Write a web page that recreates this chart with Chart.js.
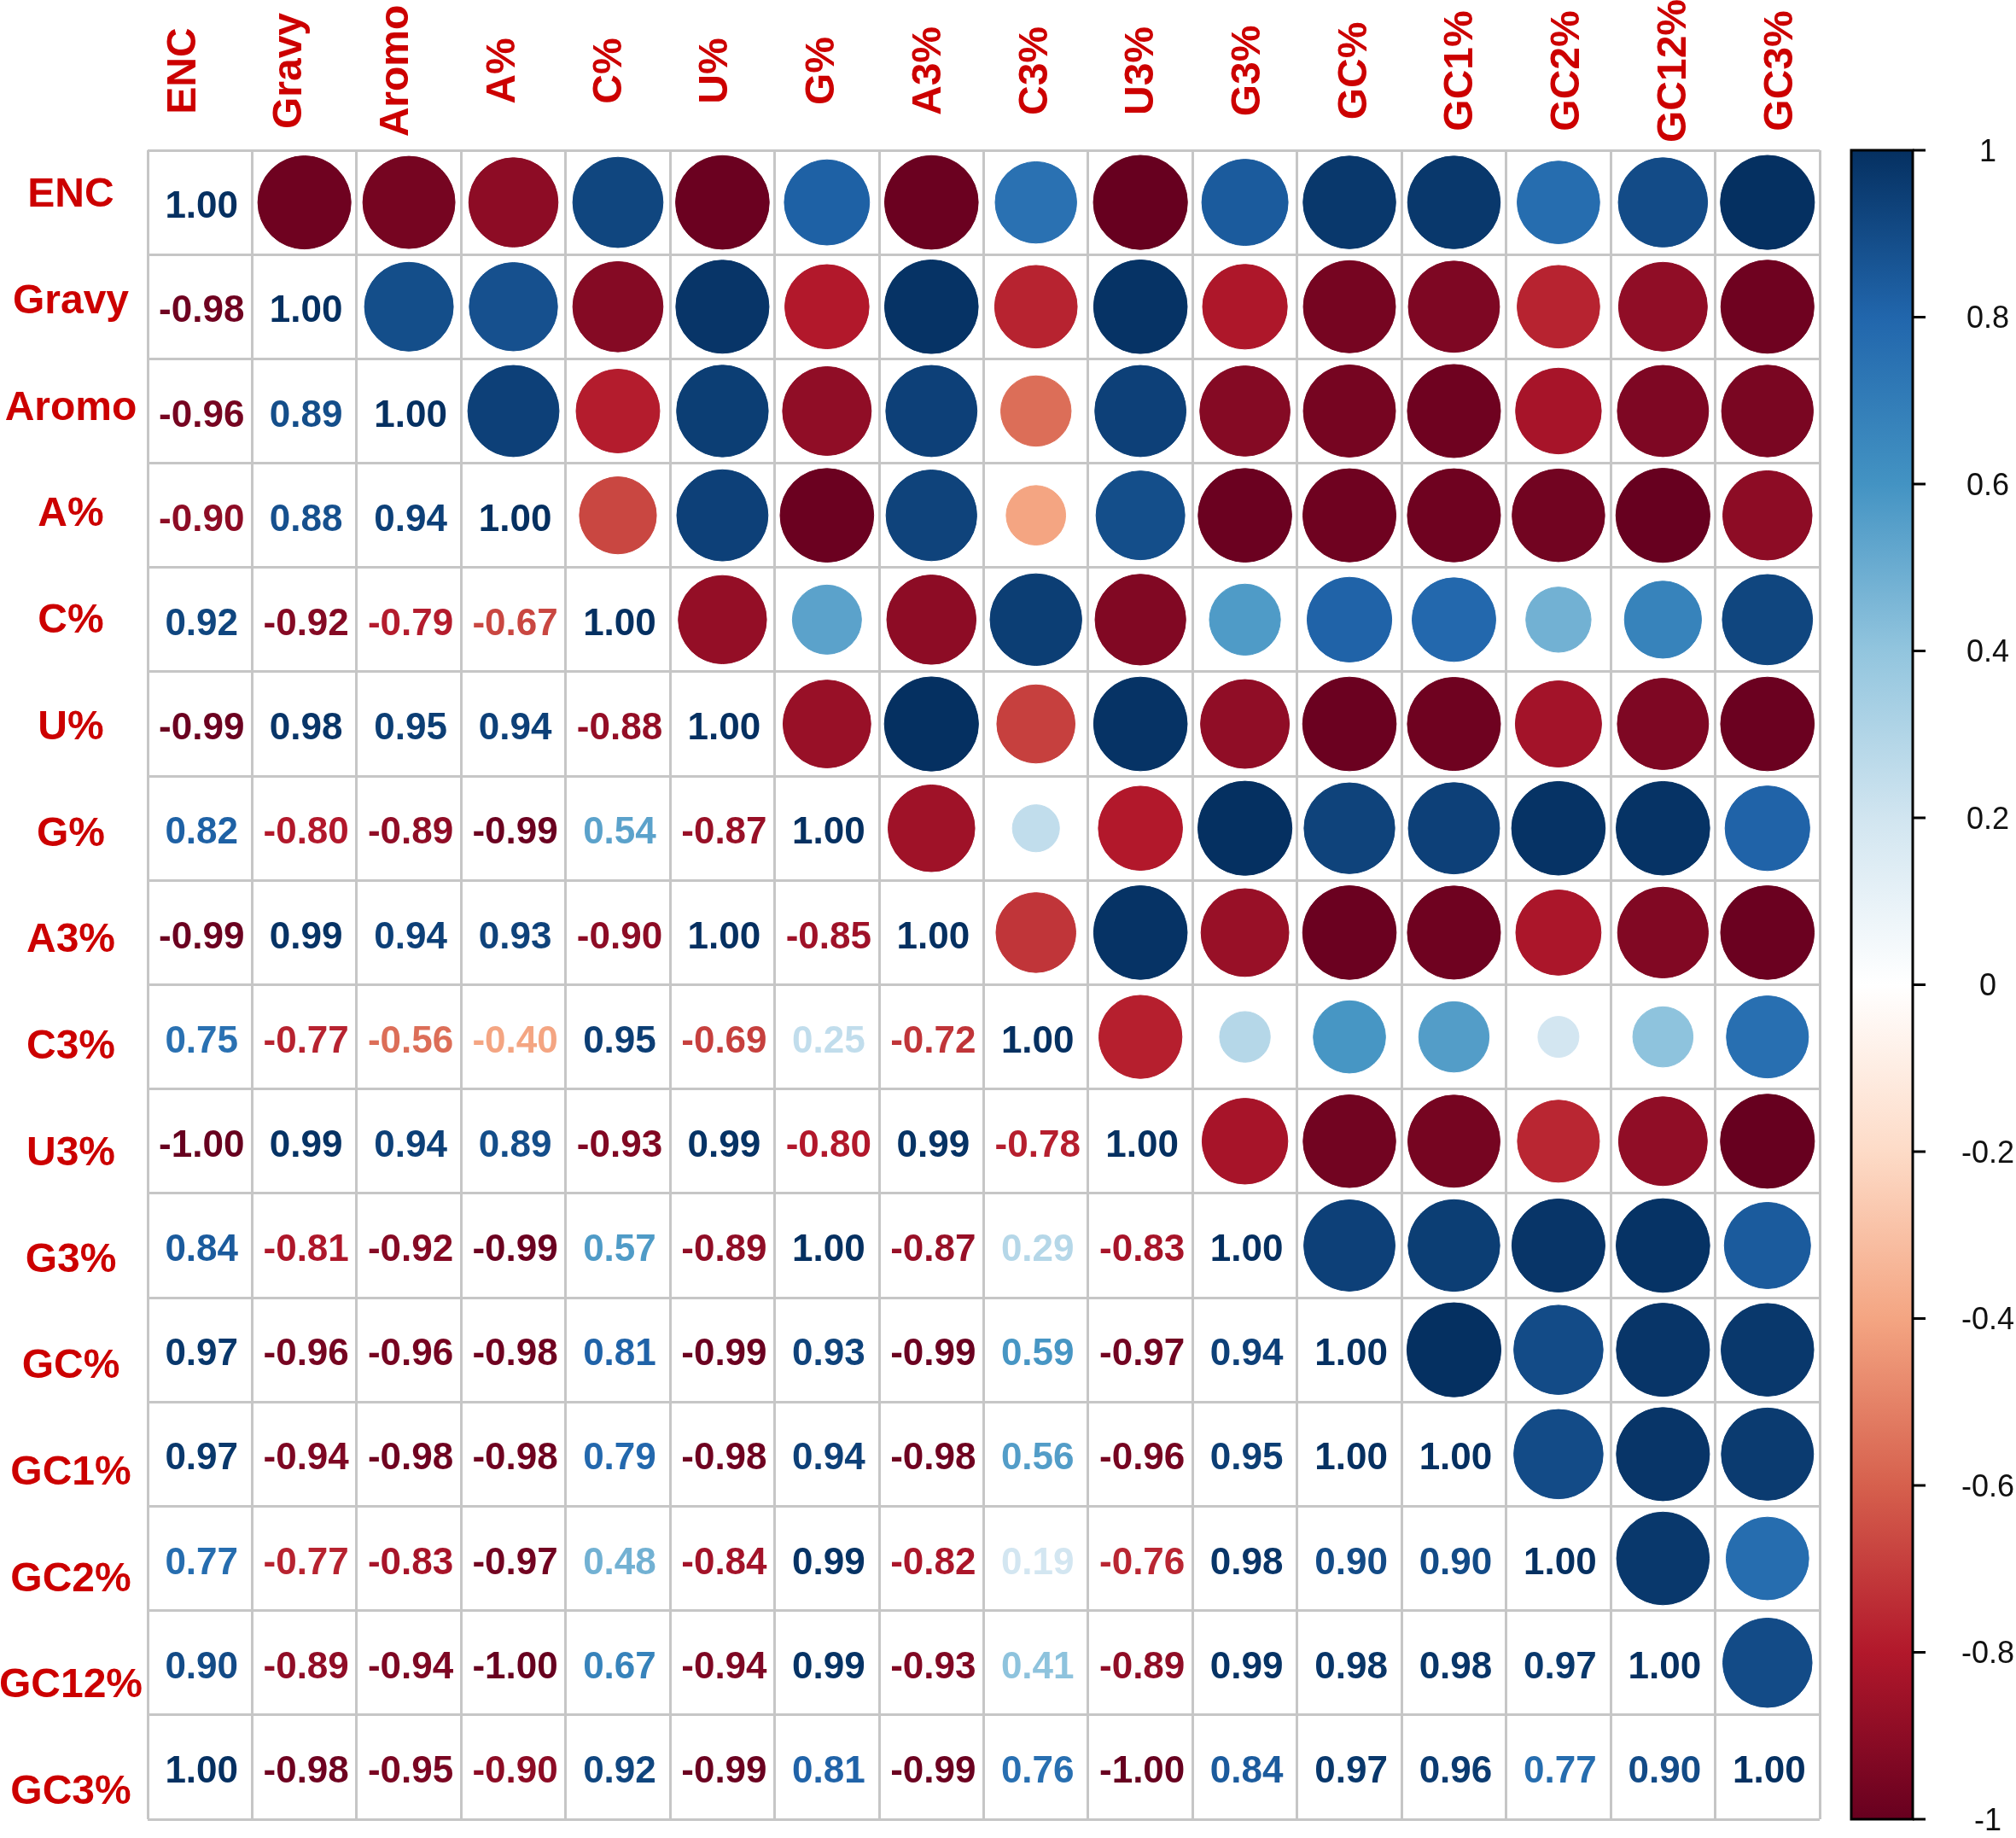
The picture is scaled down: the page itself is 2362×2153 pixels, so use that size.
<!DOCTYPE html>
<html>
<head>
<meta charset="utf-8">
<script src="https://cdn.jsdelivr.net/npm/chart.js@4.4.1/dist/chart.umd.min.js"></script>
<style>
  html, body { margin: 0; padding: 0; background: #fff; }
  #wrap { width: 2362px; height: 2153px; position: relative; }
</style>
</head>
<body>
<div id="wrap"><canvas id="corrChart"></canvas></div>
<script>
const variables = ["ENC", "Gravy", "Aromo", "A%", "C%", "U%", "G%", "A3%", "C3%", "U3%", "G3%", "GC%", "GC1%", "GC2%", "GC12%", "GC3%"];

// lower triangle, one row per variable, diagonal left out
const rowENC = [];
const rowGravy = [-0.98];
const rowAromo = [-0.96, 0.89];
const rowA = [-0.90, 0.88, 0.94];
const rowC = [0.92, -0.92, -0.79, -0.67];
const rowU = [-0.99, 0.98, 0.95, 0.94, -0.88];
const rowG = [0.82, -0.80, -0.89, -0.99, 0.54, -0.87];
const rowA3 = [-0.99, 0.99, 0.94, 0.93, -0.90, 1.00, -0.85];
const rowC3 = [0.75, -0.77, -0.56, -0.40, 0.95, -0.69, 0.25, -0.72];
const rowU3 = [-1.00, 0.99, 0.94, 0.89, -0.93, 0.99, -0.80, 0.99, -0.78];
const rowG3 = [0.84, -0.81, -0.92, -0.99, 0.57, -0.89, 1.00, -0.87, 0.29, -0.83];
const rowGC = [0.97, -0.96, -0.96, -0.98, 0.81, -0.99, 0.93, -0.99, 0.59, -0.97, 0.94];
const rowGC1 = [0.97, -0.94, -0.98, -0.98, 0.79, -0.98, 0.94, -0.98, 0.56, -0.96, 0.95, 1.00];
const rowGC2 = [0.77, -0.77, -0.83, -0.97, 0.48, -0.84, 0.99, -0.82, 0.19, -0.76, 0.98, 0.90, 0.90];
const rowGC12 = [0.90, -0.89, -0.94, -1.00, 0.67, -0.94, 0.99, -0.93, 0.41, -0.89, 0.99, 0.98, 0.98, 0.97];
const rowGC3 = [1.00, -0.98, -0.95, -0.90, 0.92, -0.99, 0.81, -0.99, 0.76, -1.00, 0.84, 0.97, 0.96, 0.77, 0.90];

const lowerRows = [rowENC, rowGravy, rowAromo, rowA, rowC, rowU, rowG, rowA3, rowC3, rowU3, rowG3, rowGC, rowGC1, rowGC2, rowGC12, rowGC3];

const barTicks = [1, 0.8, 0.6, 0.4, 0.2, 0, -0.2, -0.4, -0.6, -0.8, -1];
const palette = ["#67001F", "#B2182B", "#D6604D", "#F4A582", "#FDDBC7", "#FFFFFF", "#D1E5F0", "#92C5DE", "#4393C3", "#2166AC", "#053061"];

function corr(i, j) {
  if (i === j) return 1;
  return i > j ? lowerRows[i][j] : lowerRows[j][i];
}

function hexRgb(h) {
  return [parseInt(h.slice(1, 3), 16), parseInt(h.slice(3, 5), 16), parseInt(h.slice(5, 7), 16)];
}

function corrColor(v) {
  const pos = (Math.max(-1, Math.min(1, v)) + 1) / 2 * (palette.length - 1);
  const k = Math.min(palette.length - 2, Math.floor(pos));
  const t = pos - k;
  const a = hexRgb(palette[k]);
  const b = hexRgb(palette[k + 1]);
  const c = a.map((ch, n) => Math.round(ch + (b[n] - ch) * t));
  return "rgb(" + c.join(",") + ")";
}

// circles for the upper triangle
const circleData = [];
for (let i = 0; i < variables.length; i++) {
  for (let j = i + 1; j < variables.length; j++) {
    circleData.push({ x: j, y: i, v: corr(i, j) });
  }
}

const edges = [];
for (let k = 0; k <= variables.length; k++) edges.push(k - 0.5);

const corrDecor = {
  id: "corrDecor",
  afterDatasetsDraw(chart) {
    const { ctx, chartArea, scales } = chart;
    const { x, y, lx, ly, cb } = scales;
    ctx.save();

    // numbers in the lower triangle
    ctx.font = "bold 44px 'Liberation Sans', Arial, sans-serif";
    ctx.textAlign = "center";
    ctx.textBaseline = "middle";
    for (let i = 0; i < variables.length; i++) {
      for (let j = 0; j <= i; j++) {
        const v = corr(i, j);
        ctx.fillStyle = corrColor(v);
        ctx.fillText(v.toFixed(2), x.getPixelForValue(j) + 2, y.getPixelForValue(i) + 6);
      }
    }

    // variable names
    ctx.fillStyle = "#cc0000";
    ctx.font = "bold 48px 'Liberation Sans', Arial, sans-serif";
    variables.forEach((name, k) => {
      ctx.fillText(name, chartArea.left - 90, ly.getPixelForValue(k) + 3);
      ctx.save();
      ctx.translate(lx.getPixelForValue(k), chartArea.top - 93);
      ctx.rotate(-Math.PI / 2);
      ctx.fillText(name, 0, 0);
      ctx.restore();
    });

    // colour bar
    const barLeft = chartArea.right + 37;
    const barW = 72;
    const top = cb.getPixelForValue(1);
    const bottom = cb.getPixelForValue(-1);
    const grad = ctx.createLinearGradient(0, top, 0, bottom);
    palette.forEach((col, k) => {
      grad.addColorStop(1 - k / (palette.length - 1), col);
    });
    ctx.fillStyle = grad;
    ctx.fillRect(barLeft, top, barW, bottom - top);
    ctx.strokeStyle = "#000";
    ctx.lineWidth = 3;
    ctx.strokeRect(barLeft, top, barW, bottom - top);

    ctx.font = "36px 'Liberation Sans', Arial, sans-serif";
    ctx.fillStyle = "#111";
    barTicks.forEach((t) => {
      const py = cb.getPixelForValue(t);
      ctx.beginPath();
      ctx.moveTo(barLeft + barW, py);
      ctx.lineTo(barLeft + barW + 15, py);
      ctx.stroke();
      ctx.fillText(String(t), chartArea.right + 197, py + 3);
    });

    ctx.restore();
  }
};

new Chart(document.getElementById("corrChart").getContext("2d"), {
  type: "scatter",
  data: {
    datasets: [
      {
        label: "corr",
        data: circleData,
        backgroundColor: (c) => corrColor(c.raw.v),
        borderColor: (c) => corrColor(c.raw.v),
        borderWidth: 1,
        pointRadius: (c) => {
          const xs = c.chart.scales.x;
          const cell = Math.abs(xs.getPixelForValue(1) - xs.getPixelForValue(0));
          return 0.45 * cell * Math.sqrt(Math.abs(c.raw.v));
        },
      },
    ],
  },
  plugins: [corrDecor],
  options: {
    responsive: true,
    maintainAspectRatio: false,
    devicePixelRatio: 1,
    animation: false,
    events: [],
    layout: {
      padding: { left: 173, top: 176, right: 230, bottom: 22 },
    },
    plugins: {
      legend: { display: false },
      tooltip: { enabled: false },
    },
    scales: {
      x: {
        type: "linear",
        position: "bottom",
        min: -0.5,
        max: variables.length - 0.5,
        afterBuildTicks: (s) => { s.ticks = edges.map((v) => ({ value: v })); },
        ticks: { display: false },
        grid: { color: "#c6c6c6", lineWidth: 3, drawTicks: false },
        border: { display: false },
      },
      y: {
        type: "linear",
        position: "left",
        reverse: true,
        min: -0.5,
        max: variables.length - 0.5,
        afterBuildTicks: (s) => { s.ticks = edges.map((v) => ({ value: v })); },
        ticks: { display: false },
        grid: { color: "#c6c6c6", lineWidth: 3, drawTicks: false },
        border: { display: false },
      },
      // label axes: names sit on a slightly wider spacing than the cells
      lx: { type: "linear", axis: "x", position: "top", display: false, min: -0.34, max: 15.365 },
      ly: { type: "linear", axis: "y", position: "left", display: false, reverse: true, min: -0.401, max: 15.273 },
      cb: { type: "linear", axis: "y", position: "right", display: false, min: -1, max: 1 },
    },
  },
});
</script>
</body>
</html>
